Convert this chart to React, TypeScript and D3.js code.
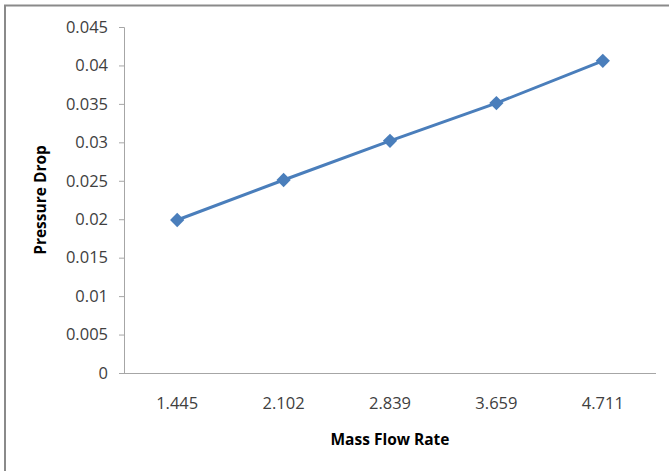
import { useEffect, useRef } from 'react';
import * as d3 from 'd3';

const categories = ["1.445", "2.102", "2.839", "3.659", "4.711"];
const pressureDrop = [0.0199, 0.0251, 0.0302, 0.0351, 0.0406];
const yTicks = [0, 0.005, 0.01, 0.015, 0.02, 0.025, 0.03, 0.035, 0.04, 0.045];

const W = 669;
const H = 471;
const FONT = "'Open Sans', 'Liberation Sans', sans-serif";

export default function App() {
    const svgRef = useRef<SVGSVGElement>(null);

    useEffect(() => {
        if (!svgRef.current) return;
        const svg = d3.select(svgRef.current);
        svg.selectAll("*").remove();

        const margin = { top: 27, right: 13, bottom: 98, left: 124 };
        const cw = W - margin.left - margin.right;
        const ch = H - margin.top - margin.bottom;

        // cadre extérieur (gauche + haut seulement visibles)
        svg.append("rect").attr("x", 0).attr("y", 0).attr("width", W).attr("height", H).attr("fill", "#fff");
        svg.append("path")
            .attr("d", `M5,${H} V5.5 H${W}`)
            .attr("fill", "none")
            .attr("stroke", "#8a8a8a")
            .attr("stroke-width", 2);

        const x = d3.scaleBand().domain(categories).range([0, cw]);
        const y = d3.scaleLinear().domain([0, 0.045]).range([ch, 0]);

        const g = svg.append("g").attr("transform", `translate(${margin.left},${margin.top})`);

        // axe Y
        const yAxis = g.append("g")
            .call(d3.axisLeft(y).tickValues(yTicks).tickSize(5).tickPadding(11)
                .tickFormat(d => String(+(+d).toFixed(3))));
        yAxis.select(".domain").attr("stroke", "#a6a6a6").attr("d", `M-5,0.5H0.5V${ch}`);
        yAxis.selectAll("line").attr("stroke", "#a6a6a6");
        yAxis.selectAll("text")
            .style("font-family", FONT).style("font-size", "16.5px").attr("fill", "#404040");

        // axe X
        const xAxis = g.append("g")
            .attr("transform", `translate(0,${ch})`)
            .call(d3.axisBottom(x).tickSize(0).tickPadding(24));
        xAxis.select(".domain").attr("stroke", "#a6a6a6").attr("d", `M0,0.5H${cw}`);
        xAxis.selectAll("text")
            .style("font-family", FONT).style("font-size", "16.5px").attr("fill", "#404040");

        const pts = categories.map((c, i) => [(x(c) || 0) + x.bandwidth() / 2, y(pressureDrop[i])] as [number, number]);

        g.append("path")
            .datum(pts)
            .attr("fill", "none")
            .attr("stroke", "#4a7ebb")
            .attr("stroke-width", 3)
            .attr("d", d3.line());

        g.selectAll(".marker")
            .data(pts)
            .enter()
            .append("path")
            .attr("class", "marker")
            .attr("transform", d => `translate(${d[0]},${d[1]})`)
            .attr("d", d3.symbol(d3.symbolDiamond2, 130)())
            .attr("fill", "#4a7ebb");

        // titres des axes
        svg.append("text")
            .attr("x", margin.left + cw / 2)
            .attr("y", 445)
            .attr("text-anchor", "middle")
            .style("font-family", FONT).style("font-size", "15.5px").style("font-weight", "bold")
            .attr("fill", "#000")
            .text("Mass Flow Rate");

        svg.append("text")
            .attr("transform", `translate(46,200) rotate(-90)`)
            .attr("text-anchor", "middle")
            .style("font-family", FONT).style("font-size", "15.5px").style("font-weight", "bold")
            .attr("fill", "#000")
            .text("Pressure Drop");
    }, []);

    return (
        <svg
            ref={svgRef}
            width={W}
            height={H}
            style={{ position: "absolute", left: 0, top: 0, background: "#fff" }}
        />
    );
}
